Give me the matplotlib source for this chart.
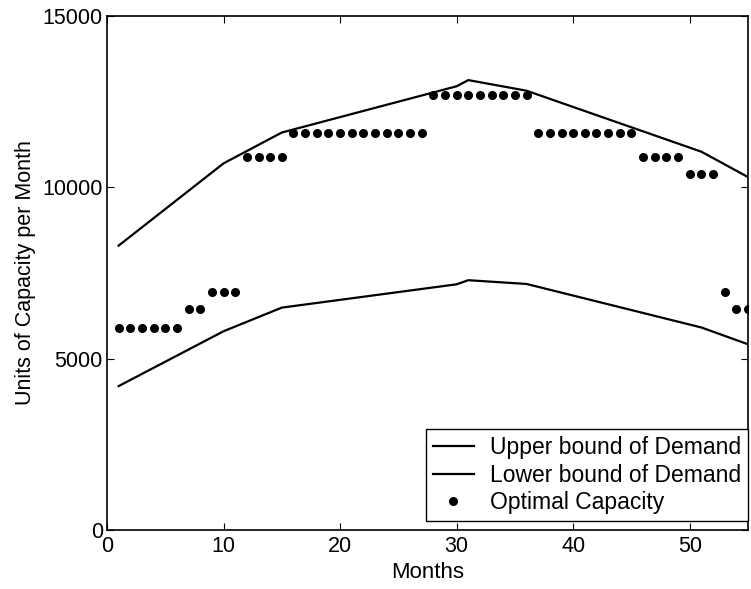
import numpy as np
import matplotlib.pyplot as plt

plt.rcParams['font.family'] = ['Liberation Sans', 'DejaVu Sans']

# Demand bounds (kink points of the piecewise linear curves)
upper_months = [1, 10, 15, 30, 31, 36, 51, 55]
upper_demand = [8300, 10700, 11600, 12950, 13130, 12820, 11040, 10300]

lower_months = [1, 10, 15, 30, 31, 36, 51, 55]
lower_demand = [4200, 5800, 6490, 7170, 7290, 7180, 5910, 5420]

# Optimal capacity for months 1..55
capacity = ([5900] * 6 + [6450] * 2 + [6940] * 3 + [10900] * 4 + [11600] * 12
            + [12700] * 9 + [11600] * 9 + [10900] * 4 + [10400] * 3
            + [6940] + [6450] * 2)
months = np.arange(1, len(capacity) + 1)

fig = plt.figure(figsize=(7.51, 5.89), dpi=100)
ax = fig.add_axes([0.1425, 0.1002, 0.8535, 0.8726])

ax.plot(upper_months, upper_demand, color='black', linewidth=1.6, label='Upper bound of Demand')
ax.plot(lower_months, lower_demand, color='black', linewidth=1.6, label='Lower bound of Demand')
ax.plot(months, capacity, 'o', color='black', markersize=5.5, label='Optimal Capacity')

ax.set_xlim(0, 55)
ax.set_ylim(0, 15000)
ax.set_xticks([0, 10, 20, 30, 40, 50])
ax.set_yticks([0, 5000, 10000, 15000])
ax.tick_params(direction='in', top=True, right=True, length=5, labelsize=15.5)
ax.tick_params(axis='x', pad=4)
ax.tick_params(axis='y', pad=3)
for s in ax.spines.values():
    s.set_linewidth(1.2)

ax.set_xlabel('Months', fontsize=16, labelpad=4)
ax.set_ylabel('Units of Capacity per Month', fontsize=15.5, labelpad=5)

leg = ax.legend(loc='lower right', bbox_to_anchor=(1.0, 0.017), fontsize=16.5,
                fancybox=False, framealpha=1, edgecolor='black',
                borderpad=0.3, labelspacing=0.2, handlelength=1.8,
                handletextpad=0.7, borderaxespad=0)
leg.get_frame().set_linewidth(1.0)

fig.savefig('out.png', dpi=100)
